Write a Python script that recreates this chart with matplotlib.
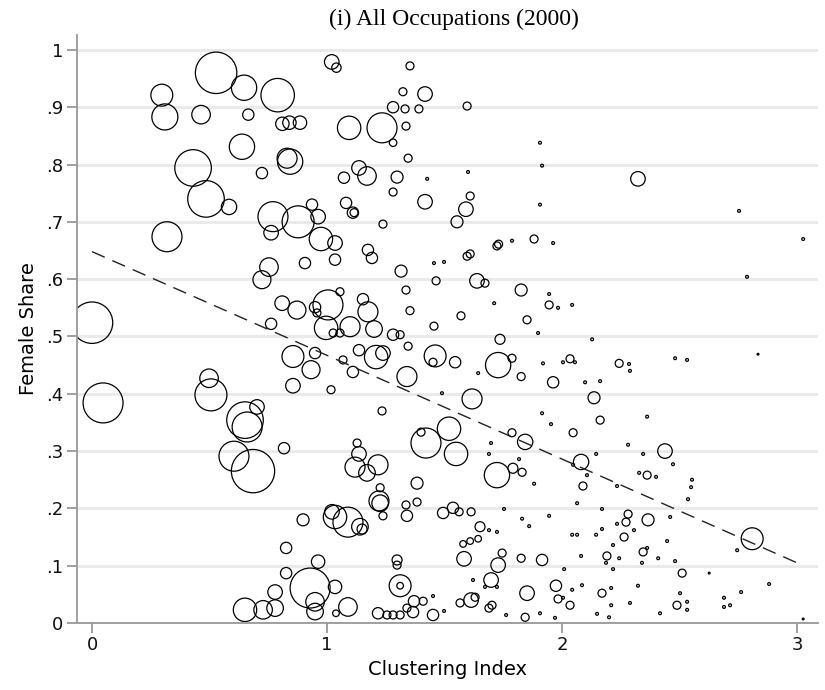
import matplotlib
matplotlib.use('Agg')
import matplotlib.pyplot as plt
import numpy as np

# clustering index, female share, employment weight (bubble area)
x_a = [0.528, 0.647, 0.790, 0.297, 0.310, 0.464, 0.665, 0.810, 0.840, 0.885,
       0.638, 0.430, 0.830, 0.843, 0.723, 0.485, 0.583, 0.319, 0.770, 0.877,
       0.762, 0.936, 0.753, 0.723, 0.906, 0.809, 0.872, 0.000, 0.762]
y_a = [0.960, 0.934, 0.921, 0.921, 0.883, 0.887, 0.887, 0.871, 0.873, 0.873,
       0.831, 0.794, 0.811, 0.805, 0.785, 0.740, 0.726, 0.674, 0.709, 0.700,
       0.681, 0.730, 0.621, 0.599, 0.628, 0.558, 0.546, 0.524, 0.522]
w_a = [43, 16, 28, 12, 17, 8.6, 3.2, 4.5, 4.5, 4.5,
       16, 33.5, 10, 16, 3.2, 33.5, 5.9, 22.5, 22.5, 25.6,
       5.3, 3.2, 8.6, 8.1, 3.2, 5.3, 8.1, 43, 3.2]

x_b = [0.047, 0.498, 0.506, 0.651, 0.660, 0.702, 0.604, 0.685, 0.817, 0.898,
       0.826, 0.826, 0.779, 0.779, 0.651, 0.728, 0.855, 0.932, 0.855, 0.949]
y_b = [0.384, 0.427, 0.398, 0.354, 0.342, 0.377, 0.291, 0.265, 0.305, 0.180,
       0.131, 0.087, 0.054, 0.026, 0.023, 0.023, 0.465, 0.442, 0.414, 0.471]
w_b = [40, 8.6, 25.6, 33.5, 22.5, 5.3, 22.5, 47, 3.2, 3.6,
       3.2, 3.2, 5.3, 6.9, 13.7, 8.6, 12, 8.1, 5.3, 3.2]

x_c = [1.020, 1.040, 1.353, 1.323, 1.417, 1.281, 1.332, 1.391, 1.596, 1.094,
       1.234, 1.336, 1.281, 1.345, 1.136, 1.170, 1.072, 1.298, 1.426, 1.600,
       1.906, 1.915, 1.906, 1.281, 1.417, 0.962, 0.974, 1.034, 1.081, 1.110,
       1.115, 1.238, 1.609, 1.591, 1.553, 1.034, 1.174, 1.191, 1.315, 1.455,
       1.498, 1.596, 1.609, 1.723, 1.730, 1.787, 1.881, 1.962, 1.464, 1.336,
       1.638, 1.672, 1.826, 1.945, 1.945, 1.983, 1.711, 1.353, 1.570, 1.851,
       1.898, 1.455, 1.736, 1.004, 1.055, 0.949, 0.957, 1.153, 1.174, 1.200,
       0.996, 1.098, 1.281, 1.311, 1.026, 1.055]
y_c = [0.979, 0.969, 0.972, 0.927, 0.923, 0.900, 0.897, 0.897, 0.902, 0.864,
       0.864, 0.867, 0.838, 0.811, 0.794, 0.780, 0.777, 0.778, 0.775, 0.787,
       0.838, 0.798, 0.730, 0.752, 0.735, 0.709, 0.670, 0.663, 0.733, 0.716,
       0.716, 0.696, 0.745, 0.722, 0.700, 0.634, 0.651, 0.637, 0.614, 0.628,
       0.630, 0.640, 0.644, 0.658, 0.661, 0.667, 0.670, 0.663, 0.597, 0.581,
       0.597, 0.593, 0.581, 0.574, 0.555, 0.550, 0.558, 0.545, 0.536, 0.529,
       0.506, 0.518, 0.495, 0.555, 0.578, 0.551, 0.541, 0.565, 0.543, 0.513,
       0.515, 0.517, 0.503, 0.503, 0.506, 0.506]
w_c = [5.3, 2.2, 1.6, 1.6, 5.3, 3.2, 1.6, 1.6, 1.6, 13.7,
       22.5, 1.6, 1.4, 1.6, 5.3, 8.6, 3.2, 3.6, 0.2, 0.2,
       0.2, 0.2, 0.2, 1.6, 5.3, 5.3, 13.7, 5.3, 3.2, 3.2,
       1.6, 1.6, 1.6, 5.3, 3.6, 3.2, 3.2, 3.2, 3.6, 0.2,
       0.2, 1.6, 1.6, 1.6, 1.6, 0.2, 1.6, 0.2, 1.6, 1.6,
       5.3, 1.6, 3.6, 0.2, 1.6, 0.2, 0.2, 1.6, 1.6, 1.6,
       0.2, 1.6, 2.5, 22.5, 1.6, 3.2, 1.6, 3.2, 10, 6.9,
       13.7, 10, 3.2, 1.6, 1.6, 1.6]

x_d = [1.068, 1.110, 1.136, 1.209, 1.238, 1.345, 1.460, 1.451, 1.545, 1.728,
       1.787, 1.826, 1.643, 1.919, 1.962, 1.017, 1.340, 1.234, 1.489, 1.617,
       1.915, 1.953, 1.519, 1.421, 1.400, 1.549, 1.787, 1.843, 1.698, 1.689,
       1.817, 1.723, 1.791, 1.830, 1.881, 1.128, 1.136, 1.119, 1.170, 1.217,
       1.383, 1.226, 1.221, 1.226, 1.238, 1.336, 1.383, 1.340, 1.021, 1.034,
       1.089, 1.140, 1.149, 1.494, 1.536, 1.562, 1.613, 1.753, 1.830, 1.860,
       1.945, 1.651, 1.643, 1.609, 1.579, 1.689, 1.723, 1.583, 1.745, 1.728,
       1.826, 1.915, 1.698, 1.621, 1.672, 1.723, 1.851, 1.613, 1.630, 1.566,
       1.702, 1.689, 1.762, 1.843, 1.906, 1.451, 1.498, 1.451, 1.409, 1.370,
       1.366, 1.340, 1.311, 1.311, 1.298, 1.298, 1.217, 1.255, 1.281, 1.311,
       0.962, 0.928, 1.034, 0.949, 0.949, 1.089, 1.038]
y_d = [0.459, 0.438, 0.476, 0.464, 0.471, 0.483, 0.466, 0.455, 0.455, 0.450,
       0.462, 0.430, 0.436, 0.453, 0.420, 0.407, 0.430, 0.370, 0.401, 0.391,
       0.366, 0.347, 0.339, 0.314, 0.333, 0.295, 0.332, 0.316, 0.314, 0.295,
       0.286, 0.258, 0.270, 0.263, 0.243, 0.314, 0.295, 0.272, 0.262, 0.276,
       0.244, 0.236, 0.213, 0.209, 0.187, 0.206, 0.211, 0.187, 0.194, 0.185,
       0.176, 0.168, 0.164, 0.192, 0.201, 0.194, 0.194, 0.199, 0.182, 0.169,
       0.187, 0.168, 0.147, 0.143, 0.138, 0.162, 0.159, 0.112, 0.122, 0.101,
       0.113, 0.110, 0.075, 0.075, 0.063, 0.063, 0.052, 0.040, 0.045, 0.035,
       0.031, 0.026, 0.014, 0.010, 0.017, 0.014, 0.021, 0.047, 0.038, 0.038,
       0.019, 0.026, 0.065, 0.065, 0.110, 0.101, 0.017, 0.014, 0.014, 0.014,
       0.107, 0.061, 0.063, 0.037, 0.020, 0.028, 0.017]
w_d = [1.6, 3.2, 3.2, 13.7, 5.3, 1.6, 12, 1.6, 3.2, 16,
       1.6, 1.6, 0.2, 0.2, 3.2, 1.6, 10, 1.6, 0.2, 10,
       0.2, 0.2, 13.7, 22.5, 1.6, 13.7, 1.6, 5.9, 0.2, 0.2,
       0.2, 16, 2.5, 1.6, 0.2, 1.6, 5.3, 10, 6.9, 10,
       3.6, 1.6, 10, 6.9, 1.6, 1.6, 1.6, 3.2, 5.3, 13.7,
       22.5, 6.9, 2.5, 3.2, 3.2, 1.6, 1.6, 0.2, 0.2, 0.2,
       0.2, 2.5, 1.1, 1.1, 1.1, 0.2, 0.2, 5.3, 1.6, 5.3,
       1.6, 3.2, 5.3, 0.2, 0.2, 0.2, 5.3, 5.3, 1.6, 1.6,
       1.6, 1.6, 0.2, 1.6, 0.2, 3.2, 0.2, 0.2, 1.6, 3.2,
       3.2, 1.6, 12, 1.1, 2.5, 1.6, 3.2, 1.6, 1.6, 1.6,
       4.5, 40, 4.5, 8.6, 6.9, 8.6, 1.1]

x_e = [2.323, 2.753, 3.026, 2.787, 2.043, 2.128, 2.004, 2.034, 2.055, 2.243,
       2.285, 2.289, 2.481, 2.532, 2.834, 2.098, 2.162, 2.136, 2.162, 2.362,
       2.047, 2.281, 2.438, 2.145, 2.345, 2.472, 2.081, 2.047, 2.106, 2.328,
       2.362, 2.400, 2.089, 2.234, 2.553, 2.549, 2.536, 2.064, 2.170, 2.281,
       2.272, 2.234, 2.306, 2.366, 2.460, 2.170, 2.145, 2.043, 2.064, 2.264,
       2.217, 2.447, 2.809, 2.745, 2.345, 2.362, 2.081, 2.191, 2.187, 2.243,
       2.340, 2.409, 2.481, 2.217, 2.009, 2.511, 2.626, 1.974, 2.043, 2.085,
       2.323, 2.209, 2.170, 2.881, 2.762, 2.502, 1.983, 2.004, 2.034, 2.209,
       2.289, 2.489, 2.532, 2.532, 2.689, 2.689, 2.715, 2.149, 2.200, 2.417,
       1.970, 3.026]
y_e = [0.775, 0.719, 0.670, 0.604, 0.555, 0.495, 0.455, 0.461, 0.455, 0.453,
       0.452, 0.440, 0.462, 0.459, 0.469, 0.420, 0.422, 0.393, 0.354, 0.360,
       0.332, 0.311, 0.300, 0.295, 0.295, 0.277, 0.281, 0.276, 0.258, 0.262,
       0.258, 0.255, 0.239, 0.239, 0.250, 0.237, 0.216, 0.209, 0.199, 0.190,
       0.176, 0.173, 0.162, 0.180, 0.185, 0.164, 0.154, 0.154, 0.154, 0.150,
       0.136, 0.143, 0.147, 0.127, 0.124, 0.131, 0.117, 0.117, 0.105, 0.113,
       0.105, 0.113, 0.108, 0.094, 0.094, 0.087, 0.087, 0.065, 0.058, 0.066,
       0.065, 0.061, 0.052, 0.068, 0.054, 0.052, 0.042, 0.044, 0.031, 0.031,
       0.035, 0.031, 0.037, 0.023, 0.044, 0.028, 0.031, 0.016, 0.010, 0.017,
       0.009, 0.007]
w_e = [5.3, 0.2, 0.2, 0.2, 0.2, 0.2, 0.2, 1.6, 0.2, 1.6,
       0.2, 0.2, 0.2, 0.2, 0.08, 0.2, 0.2, 3.6, 1.6, 0.2,
       1.6, 0.2, 5.3, 0.2, 0.2, 0.2, 5.9, 0.2, 0.2, 0.2,
       1.6, 0.2, 1.6, 0.2, 0.2, 0.2, 0.2, 0.2, 0.2, 1.6,
       1.6, 0.2, 0.2, 3.6, 0.2, 0.2, 0.2, 0.2, 0.2, 1.6,
       0.2, 0.2, 12, 0.2, 1.6, 0.2, 0.2, 1.6, 0.2, 0.2,
       0.2, 0.2, 0.2, 0.2, 0.2, 1.6, 0.08, 3.2, 0.2, 0.2,
       0.2, 0.2, 1.6, 0.2, 0.2, 0.2, 1.6, 0.2, 1.6, 0.2,
       0.2, 1.6, 0.2, 0.2, 0.2, 0.2, 0.2, 0.2, 0.2, 0.2,
       0.2, 0.08]

# weighted linear fit shown as dashed line
fit_intercept = 0.648
fit_slope = -0.181
fit_range = [0.0, 3.02]

yticks = [0, .1, .2, .3, .4, .5, .6, .7, .8, .9, 1]
ylabels = ['0', '.1', '.2', '.3', '.4', '.5', '.6', '.7', '.8', '.9', '1']
xticks = [0, 1, 2, 3]

xs = np.array(x_a + x_b + x_c + x_d + x_e)
ys = np.array(y_a + y_b + y_c + y_d + y_e)
ws = np.array(w_a + w_b + w_c + w_d + w_e)

fig = plt.figure(figsize=(8.25, 6.9), dpi=100)
ax = fig.add_axes([0.0933, 0.0971, 0.8982, 0.8522])

for yy in yticks:
    ax.axhline(yy, color='#eaeaea', lw=2.2, zorder=0)

ax.scatter(xs, ys, s=20.7 * ws, facecolors='none', edgecolors='black',
           linewidths=0.9, zorder=2)

fx = np.array(fit_range)
ax.plot(fx, fit_intercept + fit_slope * fx, color='#222222', lw=1.0,
        linestyle=(0, (10, 6)), zorder=3)

ax.set_xlim(-0.064, 3.089)
ax.set_ylim(0, 1.026)
ax.set_yticks(yticks)
ax.set_yticklabels(ylabels)
ax.set_xticks(xticks)

for s in ['top', 'right']:
    ax.spines[s].set_visible(False)
for s in ['left', 'bottom']:
    ax.spines[s].set_color('#999999')
    ax.spines[s].set_linewidth(1.3)
ax.tick_params(axis='both', colors='#999999', width=1.3, length=7,
               labelcolor='#111111', labelsize=13)
ax.tick_params(axis='y', pad=3)
ax.tick_params(axis='x', pad=2)

ax.set_xlabel('Clustering Index', fontsize=14, labelpad=5)
ax.set_ylabel('Female Share', fontsize=14, labelpad=6)
fig.text(0.55, 0.972, '(i) All Occupations (2000)', ha='center', va='center',
         fontsize=17, family='Liberation Serif')

fig.savefig('out.png', dpi=100)
